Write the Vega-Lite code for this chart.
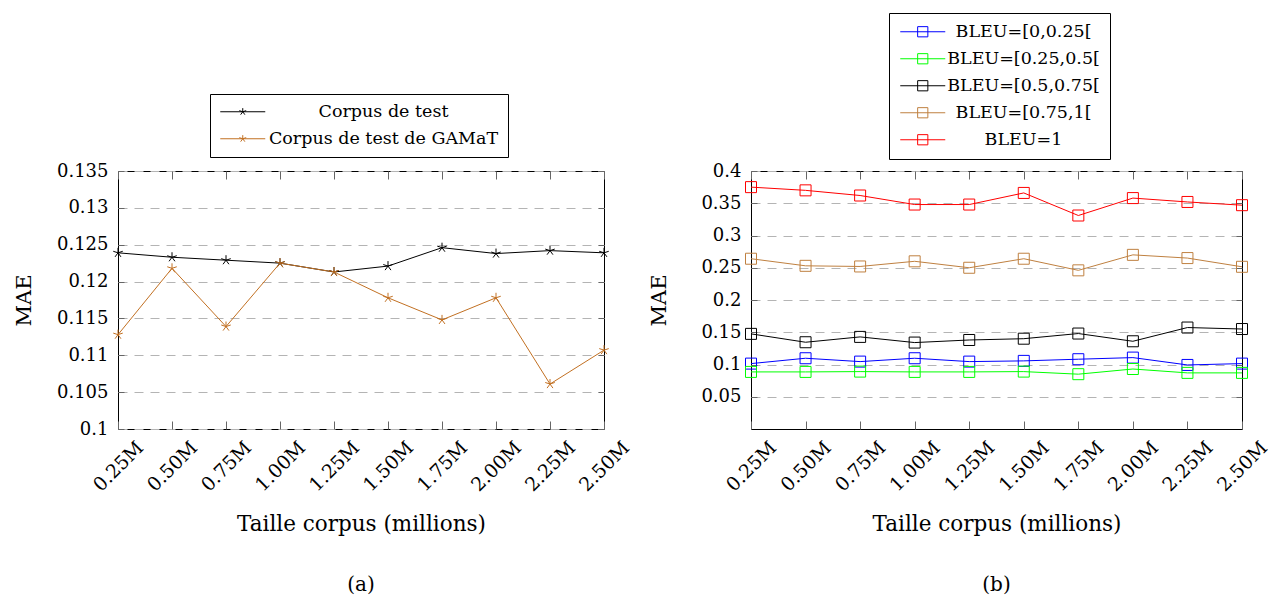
{
  "$schema": "https://vega.github.io/schema/vega-lite/v6.json",
  "background": "white",
  "padding": {"left": 12, "top": 12, "right": 10, "bottom": 2},
  "bounds": "flush",
  "spacing": 147,
  "config": {
    "font": "DejaVu Serif",
    "view": {"stroke": "black", "strokeWidth": 1},
    "title": {"fontSize": 20, "fontWeight": "normal", "font": "DejaVu Serif"},
    "axis": {"labelColor": "black", "titleColor": "black", "tickColor": "#666", "domain": false}
  },
  "resolve": {"scale": {"color": "independent"}, "legend": {"color": "independent"}},
  "datasets": {
    "a": [
      {"x": "0.25M", "s": "Corpus de test", "v": 0.1239},
      {"x": "0.50M", "s": "Corpus de test", "v": 0.1233},
      {"x": "0.75M", "s": "Corpus de test", "v": 0.1229},
      {"x": "1.00M", "s": "Corpus de test", "v": 0.1225},
      {"x": "1.25M", "s": "Corpus de test", "v": 0.1213},
      {"x": "1.50M", "s": "Corpus de test", "v": 0.1221},
      {"x": "1.75M", "s": "Corpus de test", "v": 0.1246},
      {"x": "2.00M", "s": "Corpus de test", "v": 0.1238},
      {"x": "2.25M", "s": "Corpus de test", "v": 0.1242},
      {"x": "2.50M", "s": "Corpus de test", "v": 0.1239},
      {"x": "0.25M", "s": "Corpus de test de GAMaT", "v": 0.1128},
      {"x": "0.50M", "s": "Corpus de test de GAMaT", "v": 0.1218},
      {"x": "0.75M", "s": "Corpus de test de GAMaT", "v": 0.1139},
      {"x": "1.00M", "s": "Corpus de test de GAMaT", "v": 0.1225},
      {"x": "1.25M", "s": "Corpus de test de GAMaT", "v": 0.1213},
      {"x": "1.50M", "s": "Corpus de test de GAMaT", "v": 0.1178},
      {"x": "1.75M", "s": "Corpus de test de GAMaT", "v": 0.1148},
      {"x": "2.00M", "s": "Corpus de test de GAMaT", "v": 0.1178},
      {"x": "2.25M", "s": "Corpus de test de GAMaT", "v": 0.1061},
      {"x": "2.50M", "s": "Corpus de test de GAMaT", "v": 0.1107}
    ],
    "b": [
      {"x": "0.25M", "s": "BLEU=[0,0.25[", "v": 0.1014},
      {"x": "0.50M", "s": "BLEU=[0,0.25[", "v": 0.1097},
      {"x": "0.75M", "s": "BLEU=[0,0.25[", "v": 0.1045},
      {"x": "1.00M", "s": "BLEU=[0,0.25[", "v": 0.1097},
      {"x": "1.25M", "s": "BLEU=[0,0.25[", "v": 0.1045},
      {"x": "1.50M", "s": "BLEU=[0,0.25[", "v": 0.1056},
      {"x": "1.75M", "s": "BLEU=[0,0.25[", "v": 0.1082},
      {"x": "2.00M", "s": "BLEU=[0,0.25[", "v": 0.1107},
      {"x": "2.25M", "s": "BLEU=[0,0.25[", "v": 0.0993},
      {"x": "2.50M", "s": "BLEU=[0,0.25[", "v": 0.1014},
      {"x": "0.25M", "s": "BLEU=[0.25,0.5[", "v": 0.0885},
      {"x": "0.50M", "s": "BLEU=[0.25,0.5[", "v": 0.0885},
      {"x": "0.75M", "s": "BLEU=[0.25,0.5[", "v": 0.089},
      {"x": "1.00M", "s": "BLEU=[0.25,0.5[", "v": 0.0885},
      {"x": "1.25M", "s": "BLEU=[0.25,0.5[", "v": 0.0885},
      {"x": "1.50M", "s": "BLEU=[0.25,0.5[", "v": 0.089},
      {"x": "1.75M", "s": "BLEU=[0.25,0.5[", "v": 0.085},
      {"x": "2.00M", "s": "BLEU=[0.25,0.5[", "v": 0.093},
      {"x": "2.25M", "s": "BLEU=[0.25,0.5[", "v": 0.087},
      {"x": "2.50M", "s": "BLEU=[0.25,0.5[", "v": 0.087},
      {"x": "0.25M", "s": "BLEU=[0.5,0.75[", "v": 0.1475},
      {"x": "0.50M", "s": "BLEU=[0.5,0.75[", "v": 0.1345},
      {"x": "0.75M", "s": "BLEU=[0.5,0.75[", "v": 0.1428},
      {"x": "1.00M", "s": "BLEU=[0.5,0.75[", "v": 0.134},
      {"x": "1.25M", "s": "BLEU=[0.5,0.75[", "v": 0.138},
      {"x": "1.50M", "s": "BLEU=[0.5,0.75[", "v": 0.14},
      {"x": "1.75M", "s": "BLEU=[0.5,0.75[", "v": 0.148},
      {"x": "2.00M", "s": "BLEU=[0.5,0.75[", "v": 0.136},
      {"x": "2.25M", "s": "BLEU=[0.5,0.75[", "v": 0.1573},
      {"x": "2.50M", "s": "BLEU=[0.5,0.75[", "v": 0.155},
      {"x": "0.25M", "s": "BLEU=[0.75,1[", "v": 0.264},
      {"x": "0.50M", "s": "BLEU=[0.75,1[", "v": 0.253},
      {"x": "0.75M", "s": "BLEU=[0.75,1[", "v": 0.252},
      {"x": "1.00M", "s": "BLEU=[0.75,1[", "v": 0.26},
      {"x": "1.25M", "s": "BLEU=[0.75,1[", "v": 0.25},
      {"x": "1.50M", "s": "BLEU=[0.75,1[", "v": 0.264},
      {"x": "1.75M", "s": "BLEU=[0.75,1[", "v": 0.246},
      {"x": "2.00M", "s": "BLEU=[0.75,1[", "v": 0.27},
      {"x": "2.25M", "s": "BLEU=[0.75,1[", "v": 0.265},
      {"x": "2.50M", "s": "BLEU=[0.75,1[", "v": 0.2515},
      {"x": "0.25M", "s": "BLEU=1", "v": 0.375},
      {"x": "0.50M", "s": "BLEU=1", "v": 0.37},
      {"x": "0.75M", "s": "BLEU=1", "v": 0.362},
      {"x": "1.00M", "s": "BLEU=1", "v": 0.348},
      {"x": "1.25M", "s": "BLEU=1", "v": 0.348},
      {"x": "1.50M", "s": "BLEU=1", "v": 0.366},
      {"x": "1.75M", "s": "BLEU=1", "v": 0.331},
      {"x": "2.00M", "s": "BLEU=1", "v": 0.358},
      {"x": "2.25M", "s": "BLEU=1", "v": 0.352},
      {"x": "2.50M", "s": "BLEU=1", "v": 0.347}
    ]
  },
  "hconcat": [
    {
      "width": 486,
      "height": 258,
      "data": {"name": "a"},
      "title": {"text": "(a)", "orient": "bottom", "offset": 40, "anchor": "middle"},
      "layer": [
        {
          "mark": {"type": "line", "strokeWidth": 1},
          "encoding": {
            "x": {"field": "x", "type": "ordinal", "sort": null, "scale": {"type": "point", "padding": 0},
              "axis": {"orient": "bottom", "title": "Taille corpus (millions)", "labelAngle": -45, "labelAlign": "center", "labelBaseline": "middle", "labelFontSize": 19, "titleFontSize": 21.5, "titleFontWeight": "normal", "tickSize": -8, "labelPadding": 45, "titlePadding": 19, "grid": false}},
            "y": {"field": "v", "type": "quantitative", "scale": {"domain": [0.1, 0.135], "nice": false, "zero": false},
              "axis": {"orient": "left", "title": "MAE", "values": [0.1, 0.105, 0.11, 0.115, 0.12, 0.125, 0.13, 0.135], "format": ".3~f", "labelFontSize": 18, "titleFontSize": 21, "titleFontWeight": "normal", "tickSize": -6, "labelPadding": 16, "titlePadding": 22, "grid": true, "gridDash": [9, 7], "gridColor": "#b4b4b4"}},
            "color": {"field": "s", "type": "nominal",
              "scale": {"domain": ["Corpus de test", "Corpus de test de GAMaT"], "range": ["#000000", "#C27022"]},
              "legend": {"orient": "none", "legendX": 92, "legendY": -77, "direction": "vertical", "title": null, "labelFontSize": 17.5, "labelLimit": 400, "labelAlign": "center", "labelOffset": 132, "symbolType": "M-3.75,0L3.75,0M0,0L0,-0.6M0,0L0.571,-0.185M0,0L-0.571,-0.185M0,0L-0.353,0.485M0,0L0.353,0.485", "symbolSize": 144, "symbolStrokeWidth": 1, "symbolOffset": 15, "padding": 9, "rowPadding": 8, "strokeColor": "black", "fillColor": "white"}}
          }
        },
        {
          "mark": {"type": "point", "shape": "M0,0L0,-1M0,0L0.951,-0.309M0,0L-0.951,-0.309M0,0L-0.588,0.809M0,0L0.588,0.809", "size": 100, "filled": false, "strokeWidth": 1, "opacity": 1},
          "encoding": {
            "x": {"field": "x", "type": "ordinal", "sort": null, "axis": {"orient": "top", "labels": false, "title": null, "tickSize": -8, "grid": false}},
            "y": {"field": "v", "type": "quantitative", "axis": {"orient": "right", "labels": false, "title": null, "tickSize": -6, "grid": false, "values": [0.1, 0.105, 0.11, 0.115, 0.12, 0.125, 0.13, 0.135]}},
            "color": {"field": "s", "type": "nominal", "legend": null}
          }
        }
      ],
      "resolve": {"axis": {"x": "independent", "y": "independent"}}
    },
    {
      "width": 491,
      "height": 258,
      "data": {"name": "b"},
      "title": {"text": "(b)", "orient": "bottom", "offset": 40, "anchor": "middle"},
      "layer": [
        {
          "mark": {"type": "line", "strokeWidth": 1},
          "encoding": {
            "x": {"field": "x", "type": "ordinal", "sort": null, "scale": {"type": "point", "padding": 0},
              "axis": {"orient": "bottom", "title": "Taille corpus (millions)", "labelAngle": -45, "labelAlign": "center", "labelBaseline": "middle", "labelFontSize": 19, "titleFontSize": 21.5, "titleFontWeight": "normal", "tickSize": -8, "labelPadding": 45, "titlePadding": 19, "grid": false}},
            "y": {"field": "v", "type": "quantitative", "scale": {"domain": [0, 0.4], "nice": false},
              "axis": {"orient": "left", "title": "MAE", "values": [0.05, 0.1, 0.15, 0.2, 0.25, 0.3, 0.35, 0.4], "format": ".2~f", "labelFontSize": 18, "titleFontSize": 21, "titleFontWeight": "normal", "tickSize": -6, "labelPadding": 16, "titlePadding": 31, "grid": true, "gridDash": [9, 7], "gridColor": "#b4b4b4"}},
            "color": {"field": "s", "type": "nominal",
              "scale": {"domain": ["BLEU=[0,0.25[", "BLEU=[0.25,0.5[", "BLEU=[0.5,0.75[", "BLEU=[0.75,1[", "BLEU=1"], "range": ["#0000FF", "#00FF00", "#000000", "#BF8040", "#FF0000"]},
              "legend": {"orient": "none", "legendX": 138, "legendY": -158, "direction": "vertical", "title": null, "labelFontSize": 17.5, "labelLimit": 400, "labelAlign": "center", "labelOffset": 92, "symbolType": "M-3.75,0L3.75,0M-0.85,-0.85L0.85,-0.85L0.85,0.85L-0.85,0.85Z", "symbolSize": 144, "symbolStrokeWidth": 1, "symbolOffset": 15, "padding": 10, "rowPadding": 8, "strokeColor": "black", "fillColor": "white"}}
          }
        },
        {
          "mark": {"type": "point", "shape": "square", "size": 121, "filled": false, "strokeWidth": 1, "opacity": 1},
          "encoding": {
            "x": {"field": "x", "type": "ordinal", "sort": null, "axis": {"orient": "top", "labels": false, "title": null, "tickSize": -8, "grid": false}},
            "y": {"field": "v", "type": "quantitative", "axis": {"orient": "right", "labels": false, "title": null, "tickSize": -6, "grid": false, "values": [0.05, 0.1, 0.15, 0.2, 0.25, 0.3, 0.35, 0.4]}},
            "color": {"field": "s", "type": "nominal", "legend": null}
          }
        }
      ],
      "resolve": {"axis": {"x": "independent", "y": "independent"}}
    }
  ]
}
